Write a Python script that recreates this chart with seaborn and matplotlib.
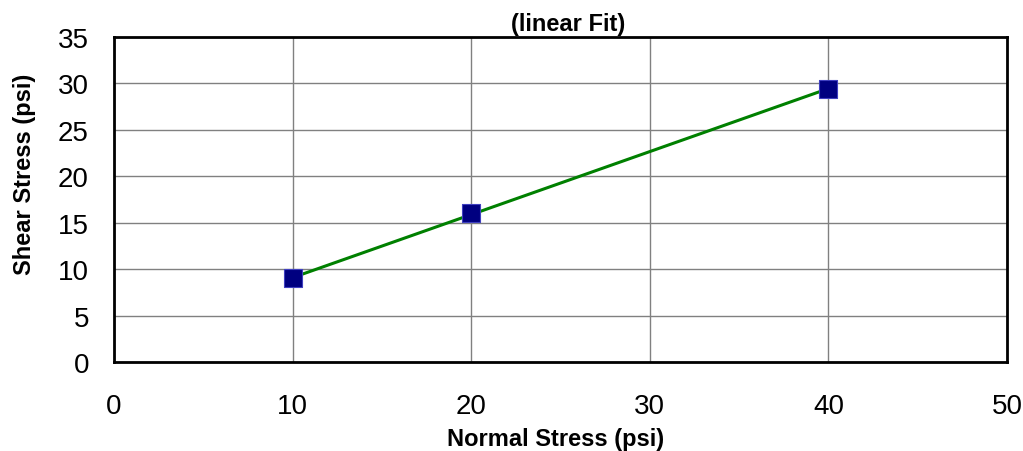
import matplotlib
matplotlib.use("Agg")
import matplotlib.pyplot as plt
import seaborn as sns
import numpy as np
import pandas as pd

normal_stress = [10, 20, 40]
shear_stress = [9.0, 16.0, 29.4]

sns.set_theme(style="whitegrid")
plt.rcParams['font.family'] = ['Liberation Sans', 'DejaVu Sans']

df = pd.DataFrame({"normal": normal_stress, "shear": shear_stress})

# linear fit through the points
slope, intercept = np.polyfit(df["normal"], df["shear"], 1)
fit = pd.DataFrame({"normal": [min(normal_stress), max(normal_stress)]})
fit["shear"] = slope * fit["normal"] + intercept

fig, ax = plt.subplots(figsize=(10.23, 4.52), dpi=100)
fig.subplots_adjust(left=0.1114, right=0.9844, top=0.916, bottom=0.197)

sns.lineplot(x="normal", y="shear", data=fit, ax=ax, color="#008000", linewidth=2.2, zorder=3)
sns.scatterplot(x="normal", y="shear", data=df, ax=ax, marker="s", s=150,
                color="#000080", edgecolor="#4040c0", linewidth=0.8, zorder=4)

ax.set_xlim(0, 50)
ax.set_ylim(0, 35)
ax.set_xticks(range(0, 51, 10))
ax.set_yticks(range(0, 36, 5))
ax.grid(True, color="#808080", linewidth=1)
ax.set_facecolor("white")
for s in ax.spines.values():
    s.set_color("black")
    s.set_linewidth(2)
ax.tick_params(axis="both", labelsize=20, labelcolor="black", color="#808080",
               direction="out", length=6, width=1)
ax.tick_params(axis="x", pad=16)
ax.tick_params(axis="y", pad=12)

ax.set_xlabel("Normal Stress (psi)", fontsize=17, fontweight="bold", color="black", labelpad=5)
ax.xaxis.set_label_coords(0.494, -0.2)
ax.set_ylabel("Shear Stress (psi)", fontsize=17, fontweight="bold", color="black", labelpad=16)
ax.yaxis.label.set_y(0.58)
ax.set_title("(linear Fit)", fontsize=17, fontweight="bold", color="black", pad=5, x=0.508)

fig.savefig("out.png", dpi=100, facecolor="white")
